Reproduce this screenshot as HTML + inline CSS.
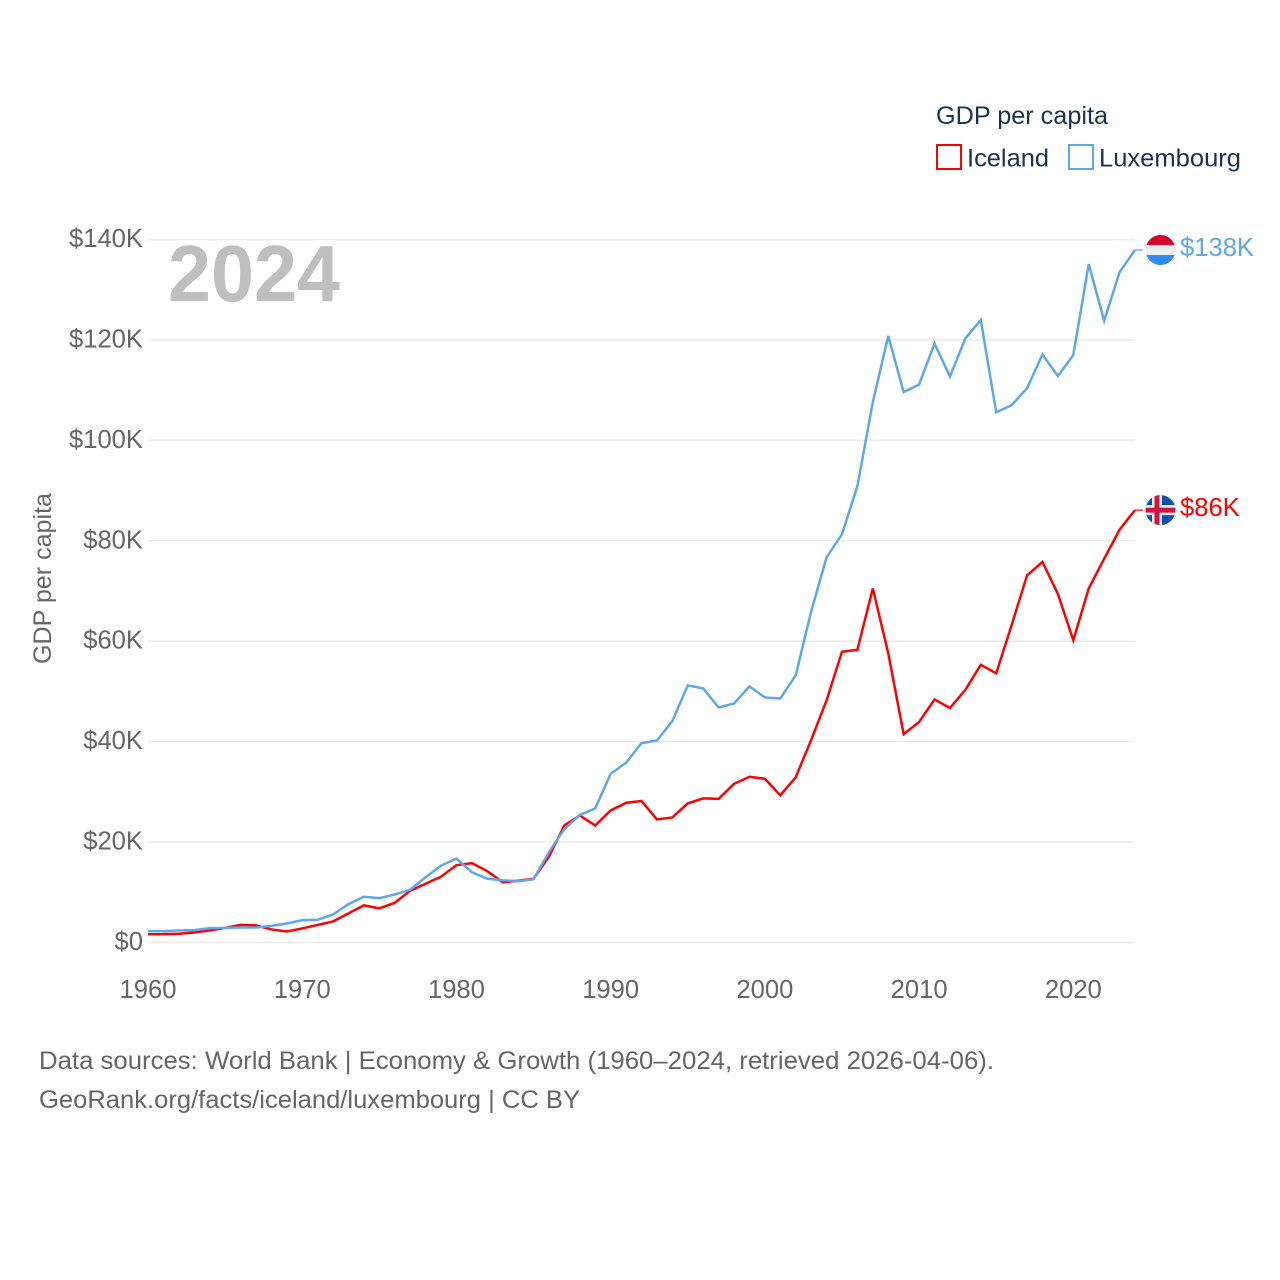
<!DOCTYPE html>
<html lang="en">
<head>
<meta charset="utf-8">
<title>GDP per capita: Iceland and Luxembourg</title>
<style>
html,body{margin:0;padding:0;background:#fff;}
svg{display:block;font-family:"Liberation Sans",sans-serif;}
</style>
</head>
<body>
<svg id="chart" xmlns="http://www.w3.org/2000/svg" width="1280" height="1280" viewBox="0 0 1280 1280">
  <rect width="1280" height="1280" fill="#ffffff"/>
  <defs>
    <clipPath id="flag-clip-lu"><circle id="clip-lu" r="15"/></clipPath>
    <clipPath id="flag-clip-is"><circle id="clip-is" r="15"/></clipPath>
  </defs>
  <g id="grid"></g>
  <g id="y-ticks"></g>
  <g id="x-ticks"></g>
  <text transform="translate(51,664) rotate(-90)" font-size="25" fill="#666666" textLength="171" lengthAdjust="spacingAndGlyphs">GDP per capita</text>
  <text x="168" y="301" font-size="80" font-weight="700" fill="#bfbfbf" textLength="172" lengthAdjust="spacingAndGlyphs">2024</text>
  <g id="series"></g>
  <g id="end-labels"></g>
  <g>
    <text x="936" y="124" font-size="25" fill="#1b3252" textLength="172" lengthAdjust="spacingAndGlyphs">GDP per capita</text>
    <g>
      <rect x="937" y="145" width="24" height="24" fill="none" stroke="#ff0000" stroke-width="2"/>
      <text x="967" y="166.5" font-size="25" fill="#1b3252" textLength="82" lengthAdjust="spacingAndGlyphs">Iceland</text>
    </g>
    <g>
      <rect x="1069" y="145" width="24" height="24" fill="none" stroke="#5ea6ee" stroke-width="2"/>
      <text x="1099" y="166.5" font-size="25" fill="#1b3252" textLength="142" lengthAdjust="spacingAndGlyphs">Luxembourg</text>
    </g>
  </g>
  <text x="39" y="1069" font-size="25" fill="#666666" textLength="955" lengthAdjust="spacingAndGlyphs">Data sources: World Bank | Economy &amp; Growth (1960–2024, retrieved 2026-04-06).</text>
  <text x="39" y="1108" font-size="25" fill="#666666" textLength="541" lengthAdjust="spacingAndGlyphs">GeoRank.org/facts/iceland/luxembourg | CC BY</text>
</svg>
<script>
const startYear = 1960;
const yTickValues = [0, 20, 40, 60, 80, 100, 120, 140];
const yTickLabels = ["$0", "$20K", "$40K", "$60K", "$80K", "$100K", "$120K", "$140K"];
const xTickYears = [1960, 1970, 1980, 1990, 2000, 2010, 2020];
const icelandValues = [
  1.65, 1.66, 1.75, 2.0, 2.4, 2.9, 3.5, 3.4, 2.6, 2.2,
  2.8, 3.5, 4.2, 5.8, 7.4, 6.8, 7.9, 10.3, 11.7, 13.1,
  15.4, 15.8, 14.2, 12.0, 12.3, 12.7, 17.1, 23.3, 25.3, 23.3,
  26.3, 27.8, 28.2, 24.5, 24.9, 27.7, 28.7, 28.6, 31.6, 33.0,
  32.6, 29.3, 32.9, 40.3, 48.2, 57.9, 58.3, 70.5, 57.6, 41.5,
  43.9, 48.4, 46.7, 50.3, 55.3, 53.6, 63.2, 73.1, 75.8, 69.4,
  60.2, 70.5, 76.4, 82.2, 86.1
];
const luxembourgValues = [
  2.26, 2.26, 2.39, 2.46, 2.86, 2.92, 2.99, 2.99, 3.32, 3.78,
  4.45, 4.52, 5.58, 7.64, 9.10, 8.83, 9.56, 10.5, 13.0, 15.3,
  16.7, 14.0, 12.7, 12.4, 12.2, 12.6, 18.0, 22.6, 25.4, 26.7,
  33.6, 35.8, 39.7, 40.2, 44.1, 51.2, 50.6, 46.8, 47.6, 51.0,
  48.8, 48.6, 53.2, 65.9, 76.7, 81.3, 90.9, 107.6, 120.8, 109.6,
  111.1, 119.3, 112.7, 120.3, 124.0, 105.6, 107.0, 110.4, 117.1, 112.8,
  117.0, 135.1, 123.8, 133.5, 137.9
];

const SVG_NS = "http://www.w3.org/2000/svg";
const plotLeft = 148, plotRight = 1135, plotBottom = 942.5, plotTop = 239.5;
const yMax = 140, yearSpan = 64;
function xScale(year) { return plotLeft + (year - startYear) * (plotRight - plotLeft) / yearSpan; }
function yScale(value) { return plotBottom - value * (plotBottom - plotTop) / yMax; }
function make(tag, attrs, text) {
  const el = document.createElementNS(SVG_NS, tag);
  for (const k in attrs) el.setAttribute(k, attrs[k]);
  if (text !== undefined) el.textContent = text;
  return el;
}
const gridGroup = document.getElementById("grid");
const yTickGroup = document.getElementById("y-ticks");
const xTickGroup = document.getElementById("x-ticks");
const seriesGroup = document.getElementById("series");
const endGroup = document.getElementById("end-labels");

yTickValues.forEach(function (v, i) {
  const line = make("line", { x1: plotLeft, x2: plotRight, y1: yScale(v), y2: yScale(v), stroke: "#ebebeb", "stroke-width": 1.5 });
  
  
  gridGroup.appendChild(line);
  const label = make("text", { x: 143, y: yScale(v) + 7.5, "text-anchor": "end", "font-size": 25.6, fill: "#666666" }, yTickLabels[i]);
  
  
  yTickGroup.appendChild(label);
});
xTickYears.forEach(function (year) {
  const label = make("text", { x: xScale(year), y: 998, "text-anchor": "middle", "font-size": 25.6, fill: "#666666" }, String(year));
  
  
  xTickGroup.appendChild(label);
});
function linePath(values) {
  return values.map(function (v, i) {
    return (i ? "L" : "M") + xScale(startYear + i).toFixed(2) + " " + yScale(v).toFixed(2);
  }).join(" ");
}
const icelandLine = make("path", { d: linePath(icelandValues), fill: "none", stroke: "#ff0000", "stroke-width": 2.5, "stroke-linejoin": "miter" });


seriesGroup.appendChild(icelandLine);
const luxembourgLine = make("path", { d: linePath(luxembourgValues), fill: "none", stroke: "#5ea6ee", "stroke-width": 2.5, "stroke-linejoin": "miter" });


seriesGroup.appendChild(luxembourgLine);

function endLabel(value, color) {
  const y = yScale(value);
  const connector = make("line", { x1: plotRight, x2: 1143, y1: y, y2: y, stroke: color, "stroke-width": 1.5, "stroke-opacity": 0.8 });
  
  
  endGroup.appendChild(connector);
  const text = make("text", { x: 1180, y: y + 6, "font-size": 25.6, fill: color }, "$" + Math.round(value) + "K");
  
  
  endGroup.appendChild(text);
  return y;
}
const cx = 1160.5;
const luY = endLabel(luxembourgValues[luxembourgValues.length - 1], "#5ea6ee");
const isY = endLabel(icelandValues[icelandValues.length - 1], "#ff0000");

const clipLu = document.getElementById("clip-lu");
clipLu.setAttribute("cx", cx);
clipLu.setAttribute("cy", luY);
const clipIs = document.getElementById("clip-is");
clipIs.setAttribute("cx", cx);
clipIs.setAttribute("cy", isY);

const flagLu = make("g", { "clip-path": "url(#flag-clip-lu)" });


flagLu.appendChild(make("rect", { x: cx - 15, y: luY - 15.5, width: 30, height: 10.5, fill: "#d8002e" }));
flagLu.appendChild(make("rect", { x: cx - 15, y: luY - 5, width: 30, height: 10, fill: "#ececec" }));
flagLu.appendChild(make("rect", { x: cx - 15, y: luY + 5, width: 30, height: 10.5, fill: "#2e8bf5" }));
endGroup.appendChild(flagLu);

const flagIs = make("g", { "clip-path": "url(#flag-clip-is)" });


flagIs.appendChild(make("rect", { x: cx - 15, y: isY - 15.5, width: 30, height: 31, fill: "#0a52b0" }));
flagIs.appendChild(make("rect", { x: cx - 15, y: isY - 5, width: 30, height: 10, fill: "#f2f2f2" }));
flagIs.appendChild(make("rect", { x: cx - 8.5, y: isY - 15.5, width: 10, height: 31, fill: "#f2f2f2" }));
flagIs.appendChild(make("rect", { x: cx - 15, y: isY - 2.5, width: 30, height: 5, fill: "#d3123f" }));
flagIs.appendChild(make("rect", { x: cx - 6, y: isY - 15.5, width: 5, height: 31, fill: "#d3123f" }));
endGroup.appendChild(flagIs);
</script>
</body>
</html>
